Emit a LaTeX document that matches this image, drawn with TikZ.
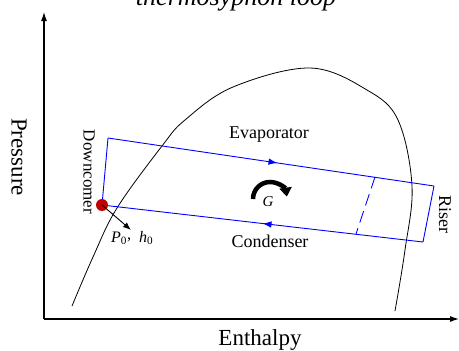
\documentclass[tikz,border=0pt]{standalone}
\usepackage{fontspec}
\setmainfont{Liberation Serif}
\usetikzlibrary{arrows.meta,decorations.markings}
\definecolor{dotred}{RGB}{192,0,0}
\begin{document}
\begin{tikzpicture}[x=1pt,y=-1pt,
  axis/.style={line width=1.1pt,-{Latex[length=9pt,width=6pt]}},
  loopline/.style={blue,line width=0.9pt},
  midarrow/.style={postaction={decorate},decoration={markings,
    mark=at position #1 with {\arrow{Latex[length=9pt,width=6.5pt]}}}},
  lbl/.style={inner sep=0pt,font=\fontsize{18}{18}\selectfont},
  biglbl/.style={inner sep=0pt,font=\fontsize{23}{23}\selectfont}]
\useasboundingbox (0,0) rectangle (459,351);

% title (cut by the page edge)
\node[inner sep=0pt,anchor=base,font=\fontsize{26}{26}\selectfont\itshape] (title) at (236,5) {thermosyphon loop};

% axes
\coordinate (origin) at (44,319);
\coordinate (ytip) at (44,12);
\coordinate (xtip) at (459,319);
\draw[axis] (origin) -- (ytip);
\draw[axis] (origin) -- (xtip);
\node[biglbl,rotate=-90] (pressure) at (19,157) {Pressure};
\node[biglbl,anchor=base] (enthalpy) at (260,345) {Enthalpy};

% saturation dome
\draw[line width=0.8pt] plot[smooth,tension=0.6] coordinates {(72,306) (93,257) (117,208) (162,146) (185,120) (233,87) (310,68) (367,90) (398,120) (412,186) (405,250) (395,311)};

% loop
\coordinate (tl) at (108,138);
\coordinate (tr) at (434,186);
\coordinate (br) at (423,242);
\coordinate (bl) at (102,205);
\coordinate (dtop) at (375,177);
\coordinate (dbot) at (356,234);
\draw[loopline] (bl) -- (tl);
\draw[loopline,midarrow=0.52] (tl) -- (tr);
\draw[loopline] (tr) -- (br);
\draw[loopline,midarrow=0.5] (br) -- (bl);
\draw[loopline,dash pattern=on 12pt off 6pt] (dtop) -- (dbot);

\node[circle,fill=dotred,minimum size=12pt,inner sep=0pt] (dot) at (bl) {};
\coordinate (pt) at (131,230);
\draw[line width=0.9pt,-{Latex[length=8pt,width=6pt]}] (dot.center) -- (pt);
\node[inner sep=0pt,anchor=base west,font=\fontsize{16}{16}\selectfont] (ph) at (111,242) {\textit{P}\textsubscript{0}\raisebox{3pt}{,}\ \ \textit{h}\textsubscript{0}};

% labels
\node[lbl,anchor=base] (evap) at (269,138) {Evaporator};
\node[lbl,anchor=base] (cond) at (270,247) {Condenser};
\node[lbl,rotate=-90,font=\fontsize{17}{17}\selectfont] (down) at (89,172) {Downcomer};
\node[lbl,rotate=-90] (riser) at (445,214) {Riser};

% circulation
\draw[line width=4.5pt,-{Triangle[length=9pt,width=12pt]}] (253,199) arc[start angle=180,end angle=8,radius=17pt];
\node[inner sep=0pt,font=\fontsize{15}{15}\selectfont\itshape] (g) at (268,202) {G};
\end{tikzpicture}
\end{document}
